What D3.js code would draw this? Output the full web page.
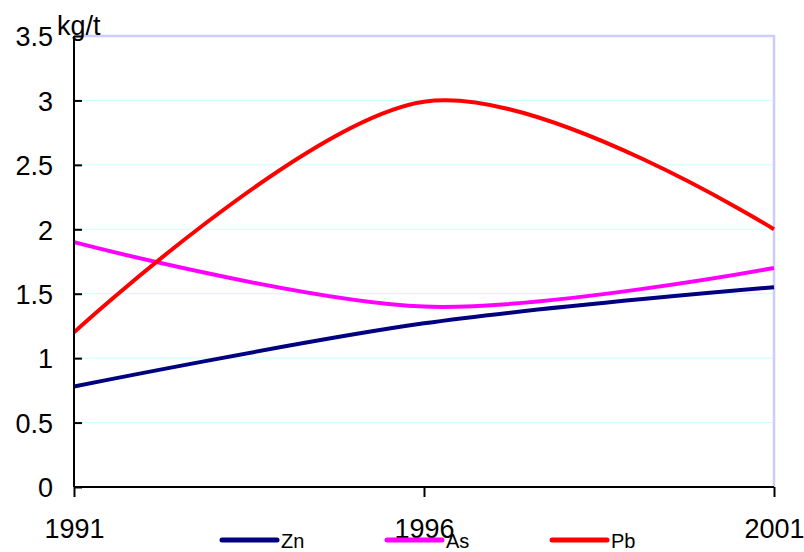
<!DOCTYPE html>
<html><head><meta charset="utf-8">
<script src="https://cdn.jsdelivr.net/npm/d3@7"></script>
<style>body{margin:0;background:#fff}svg{display:block;font-family:"Liberation Sans",Arial,sans-serif}</style>
</head><body><svg id="c" width="804" height="552"></svg>
<script>
const years = [1991, 1996, 2001];
const zn = [0.78, 1.27, 1.55];
const as = [1.9, 1.4, 1.7];
const pb = [1.2, 2.99, 2.0];
const yTicks = [0, 0.5, 1, 1.5, 2, 2.5, 3, 3.5];
const xTicks = [1991, 1996, 2001];
const series = [
  {name: "Zn", values: zn, color: "#000080"},
  {name: "As", values: as, color: "#ff00ff"},
  {name: "Pb", values: pb, color: "#ff0000"}
];
const svg = d3.select("#c");
const x = d3.scaleLinear().domain([1991, 2001]).range([74, 774]);
const y = d3.scaleLinear().domain([0, 3.5]).range([487, 36]);

// gridlines
svg.append("g").selectAll("line").data(yTicks.filter(d => d > 0 && d < 3.5)).join("line")
  .attr("x1", x(1991)).attr("x2", x(2001)).attr("y1", d => y(d)).attr("y2", d => y(d))
  .attr("stroke", "#ccffff").attr("stroke-width", 1);
// top/right border
svg.append("path").attr("d", `M${x(1991)},${y(3.5)}H${x(2001)}V${y(0)}`)
  .attr("fill", "none").attr("stroke", "#ccccff").attr("stroke-width", 2.5);

// lines
const line = d3.line().curve(d3.curveCardinal.tension(0));
series.forEach(s => {
  svg.append("path").attr("d", line(years.map((yr, i) => [x(yr), y(s.values[i])])))
    .attr("fill", "none").attr("stroke", s.color).attr("stroke-width", 4);
});

// y axis
const ya = svg.append("g").attr("transform", `translate(${x(1991)},0)`)
  .call(d3.axisRight(y).tickValues(yTicks).tickSize(8).tickFormat(d3.format("")));
ya.select(".domain").attr("stroke", "#000").attr("stroke-width", 2).attr("d", `M0,${y(3.5)}V${y(0)}`);
ya.selectAll(".tick line").attr("stroke", "#000").attr("stroke-width", 2);
ya.selectAll(".tick text").attr("x", -21).attr("text-anchor", "end").attr("dy", "0.36em")
  .attr("font-size", 27).attr("font-family", "Liberation Sans, Arial, sans-serif").attr("fill", "#000");

// x axis
const xa = svg.append("g").attr("transform", `translate(0,${y(0)})`)
  .call(d3.axisBottom(x).tickValues(xTicks).tickSize(10).tickFormat(d3.format("d")));
xa.select(".domain").attr("stroke", "#000").attr("stroke-width", 2).attr("d", `M${x(1991)},0H${x(2001)}`);
xa.selectAll(".tick line").attr("stroke", "#000").attr("stroke-width", 2);
xa.selectAll(".tick text").attr("y", 51).attr("dy", 0)
  .attr("font-size", 27).attr("font-family", "Liberation Sans, Arial, sans-serif").attr("fill", "#000");

// unit label
svg.append("text").attr("x", 57).attr("y", 35).attr("font-size", 27).text("kg/t");

// legend
const legX = [222, 387, 552];
series.forEach((s, i) => {
  svg.append("line").attr("x1", legX[i]).attr("x2", legX[i] + 55).attr("y1", 540).attr("y2", 540)
    .attr("stroke", s.color).attr("stroke-width", 5).attr("stroke-linecap", "round");
  svg.append("text").attr("x", legX[i] + 59).attr("y", 548).attr("font-size", 20).text(s.name);
});
</script></body></html>
